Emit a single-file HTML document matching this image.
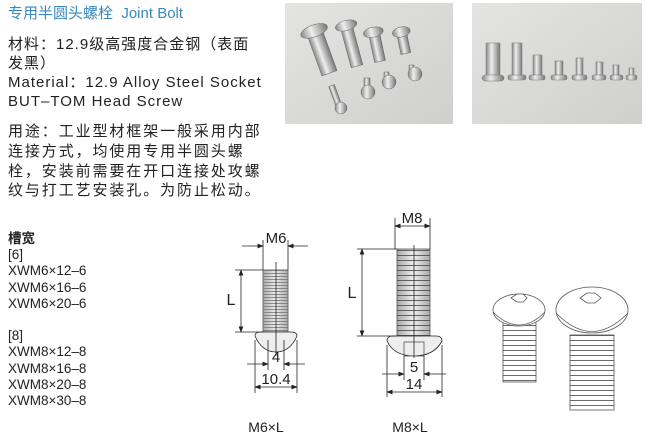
<!DOCTYPE html>
<html><head><meta charset="utf-8"><style>
body{margin:0;width:650px;height:444px;background:#fff;position:relative;overflow:hidden;font-family:"Liberation Sans","Noto Sans CJK SC",sans-serif;color:#222}
.t{position:absolute;white-space:nowrap}
.b{font-size:15px;line-height:19px;left:8px}
.l{font-size:13.5px;left:8px;line-height:16.2px}
</style></head><body>
<div class="t" style="left:8px;top:2px;font-size:15px;color:#3a88c0">专用半圆头螺栓&nbsp; Joint Bolt</div>
<div class="t b" style="top:35px;letter-spacing:1px">材料：12.9级高强度合金钢（表面<br>发黑）<br>Material：12.9 Alloy Steel Socket<br>BUT–TOM Head Screw</div>
<div class="t b" style="top:122px;letter-spacing:1.9px;line-height:19.8px">用途：工业型材框架一般采用内部<br>连接方式，均使用专用半圆头螺<br>栓，安装前需要在开口连接处攻螺<br>纹与打工艺安装孔。为防止松动。</div>
<div class="t l" style="top:231px"><b>槽宽</b><br>[6]<br>XWM6×12–6<br>XWM6×16–6<br>XWM6×20–6<br><br>[8]<br>XWM8×12–8<br>XWM8×16–8<br>XWM8×20–8<br>XWM8×30–8</div>
<svg width="650" height="444" style="position:absolute;left:0;top:0">
<defs>
<linearGradient id="ph" x1="0" y1="0" x2="1" y2="1"><stop offset="0" stop-color="#e4e4e2"/><stop offset="1" stop-color="#cfcfcd"/></linearGradient>
<linearGradient id="st" x1="0" x2="1"><stop offset="0" stop-color="#888"/><stop offset=".4" stop-color="#eee"/><stop offset="1" stop-color="#777"/></linearGradient>
<linearGradient id="sh" x1="0" x2="1"><stop offset="0" stop-color="#aaa"/><stop offset=".5" stop-color="#eee"/><stop offset="1" stop-color="#aaa"/></linearGradient>
<pattern id="th" width="4" height="3" patternUnits="userSpaceOnUse"><line x1="0" y1="0.5" x2="4" y2="0.5" stroke="#777" stroke-width="0.8"/></pattern>
<pattern id="th3" width="4" height="5" patternUnits="userSpaceOnUse"><line x1="0" y1="0.5" x2="4" y2="0.5" stroke="#444" stroke-width="0.8"/></pattern>
<marker id="a" markerWidth="8" markerHeight="6" refX="7" refY="3" orient="auto"><path d="M0,0L8,3L0,6z" fill="#222"/></marker>
</defs>
<rect x="285" y="3" width="168" height="121" fill="url(#ph)"/>
<rect x="472" y="3" width="170" height="121" fill="url(#ph)"/>
<g fill="url(#st)" stroke="#666" stroke-width=".5">
<g transform="rotate(-20 320 50)"><rect x="313" y="30" width="16" height="45"/><ellipse cx="321" cy="30" rx="14" ry="6"/></g>
<g transform="rotate(-15 350 40)"><rect x="344" y="25" width="12" height="42"/><ellipse cx="350" cy="25" rx="11" ry="5"/></g>
<g transform="rotate(-12 375 40)"><rect x="370" y="32" width="11" height="30"/><ellipse cx="375" cy="32" rx="10" ry="5"/></g>
<g transform="rotate(-12 402 40)"><rect x="398" y="32" width="10" height="22"/><ellipse cx="403" cy="32" rx="9" ry="5"/></g>
<rect x="332" y="85" width="6" height="20" transform="rotate(-20 335 95)"/><circle cx="341" cy="108" r="6"/>
<rect x="364" y="78" width="6" height="14"/><circle cx="368" cy="92" r="7"/>
<rect x="384" y="72" width="5" height="8"/><circle cx="389" cy="82" r="7"/>
<rect x="409" y="65" width="5" height="6"/><circle cx="415" cy="74" r="7"/>
</g>
<g fill="url(#st)" stroke="#777" stroke-width=".5">
<rect x="486" y="43" width="14" height="34"/><rect x="482" y="75" width="22" height="6" rx="3"/>
<rect x="512" y="43" width="10" height="34"/><rect x="508" y="75" width="18" height="5" rx="2"/>
<rect x="533" y="55" width="9" height="22"/><rect x="529" y="75" width="16" height="5" rx="2"/>
<rect x="555" y="61" width="8" height="16"/><rect x="551" y="75" width="16" height="5" rx="2"/>
<rect x="576" y="58" width="7" height="19"/><rect x="572" y="75" width="15" height="5" rx="2"/>
<rect x="596" y="62" width="7" height="15"/><rect x="592" y="75" width="14" height="5" rx="2"/>
<rect x="613" y="65" width="6" height="12"/><rect x="610" y="75" width="13" height="5" rx="2"/>
<rect x="629" y="68" width="5" height="9"/><rect x="626" y="75" width="11" height="5" rx="2"/>
</g>
<g stroke="#222" stroke-width=".8" fill="none">
<rect x="263" y="270" width="25" height="62" fill="url(#sh)" stroke="#555"/>
<rect x="263" y="270" width="25" height="62" fill="url(#th)" stroke="none"/>
<path d="M255,336 Q255,332 260,332 L291,332 Q297,332 297,336 Q290,352 276,352 Q262,352 255,336Z" fill="#eee"/>
<line x1="276" y1="262" x2="276" y2="356"/>
<line x1="268" y1="340" x2="268" y2="370"/><line x1="284" y1="340" x2="284" y2="370"/>
<line x1="263" y1="240" x2="263" y2="270"/><line x1="288" y1="240" x2="288" y2="270"/>
<line x1="242" y1="246" x2="263" y2="246" marker-end="url(#a)"/><line x1="308" y1="246" x2="288" y2="246" marker-end="url(#a)"/>
<line x1="235" y1="270" x2="263" y2="270"/><line x1="235" y1="332" x2="263" y2="332"/>
<line x1="241" y1="300" x2="241" y2="270" marker-end="url(#a)"/><line x1="241" y1="300" x2="241" y2="332" marker-end="url(#a)"/>
<line x1="247" y1="364" x2="268" y2="364" marker-end="url(#a)"/><line x1="305" y1="364" x2="284" y2="364" marker-end="url(#a)"/>
<line x1="255" y1="340" x2="255" y2="393"/><line x1="297" y1="340" x2="297" y2="393"/>
<line x1="276" y1="387" x2="255" y2="387" marker-end="url(#a)"/><line x1="276" y1="387" x2="297" y2="387" marker-end="url(#a)"/>
</g>
<g stroke="#222" stroke-width=".8" fill="none">
<rect x="397" y="249" width="33" height="87" fill="url(#sh)" stroke="#555"/>
<rect x="397" y="249" width="33" height="87" fill="url(#th3)" stroke="none"/>
<path d="M387,341 Q387,336 393,336 L436,336 Q442,336 442,341 Q434,356 414,356 Q394,356 387,341Z" fill="#eee"/>
<rect x="404" y="342" width="20" height="14" fill="none" stroke="#555"/>
<line x1="414" y1="245" x2="414" y2="358"/>
<line x1="395" y1="218" x2="395" y2="249"/><line x1="430" y1="218" x2="430" y2="249"/>
<line x1="412" y1="226" x2="395" y2="226" marker-end="url(#a)"/><line x1="412" y1="226" x2="430" y2="226" marker-end="url(#a)"/>
<line x1="357" y1="249" x2="397" y2="249"/><line x1="357" y1="336" x2="397" y2="336"/>
<line x1="362" y1="292" x2="362" y2="249" marker-end="url(#a)"/><line x1="362" y1="292" x2="362" y2="336" marker-end="url(#a)"/>
<line x1="404" y1="356" x2="404" y2="380"/><line x1="424" y1="356" x2="424" y2="380"/>
<line x1="382" y1="374" x2="404" y2="374" marker-end="url(#a)"/><line x1="446" y1="374" x2="424" y2="374" marker-end="url(#a)"/>
<line x1="387" y1="345" x2="387" y2="397"/><line x1="442" y1="345" x2="442" y2="397"/>
<line x1="414" y1="392" x2="387" y2="392" marker-end="url(#a)"/><line x1="414" y1="392" x2="442" y2="392" marker-end="url(#a)"/>
</g>
<g font-family="Liberation Sans, sans-serif" font-size="15" fill="#222" text-anchor="middle">
<text x="276" y="243">M6</text><text x="231" y="305" font-size="16">L</text>
<text x="276" y="362">4</text><text x="276" y="384">10.4</text>
<text x="412" y="223">M8</text><text x="352" y="298" font-size="16">L</text>
<text x="414" y="372">5</text><text x="414" y="389">14</text>
<text x="266" y="432" font-size="14">M6×L</text><text x="410" y="432" font-size="14">M8×L</text>
</g>
<g stroke="#555" stroke-width=".8" fill="#fff">
<rect x="503" y="318" width="33" height="64"/>
<rect x="503" y="318" width="33" height="64" fill="url(#th3)" stroke="none"/>
<ellipse cx="519" cy="310" rx="26" ry="16"/><path d="M493,312 Q519,338 545,312"/>
<path d="M511,298 l6,-4 h6 l4,4 l-4,4 h-6z"/>
<rect x="570" y="335" width="44" height="75"/>
<rect x="570" y="335" width="44" height="75" fill="url(#th3)" stroke="none"/>
<ellipse cx="592" cy="310" rx="36" ry="23"/><path d="M556,313 Q592,350 628,313"/>
<path d="M580,298 l7,-5 h8 l6,5 l-6,5 h-8z"/>
</g>
</svg>
</body></html>
